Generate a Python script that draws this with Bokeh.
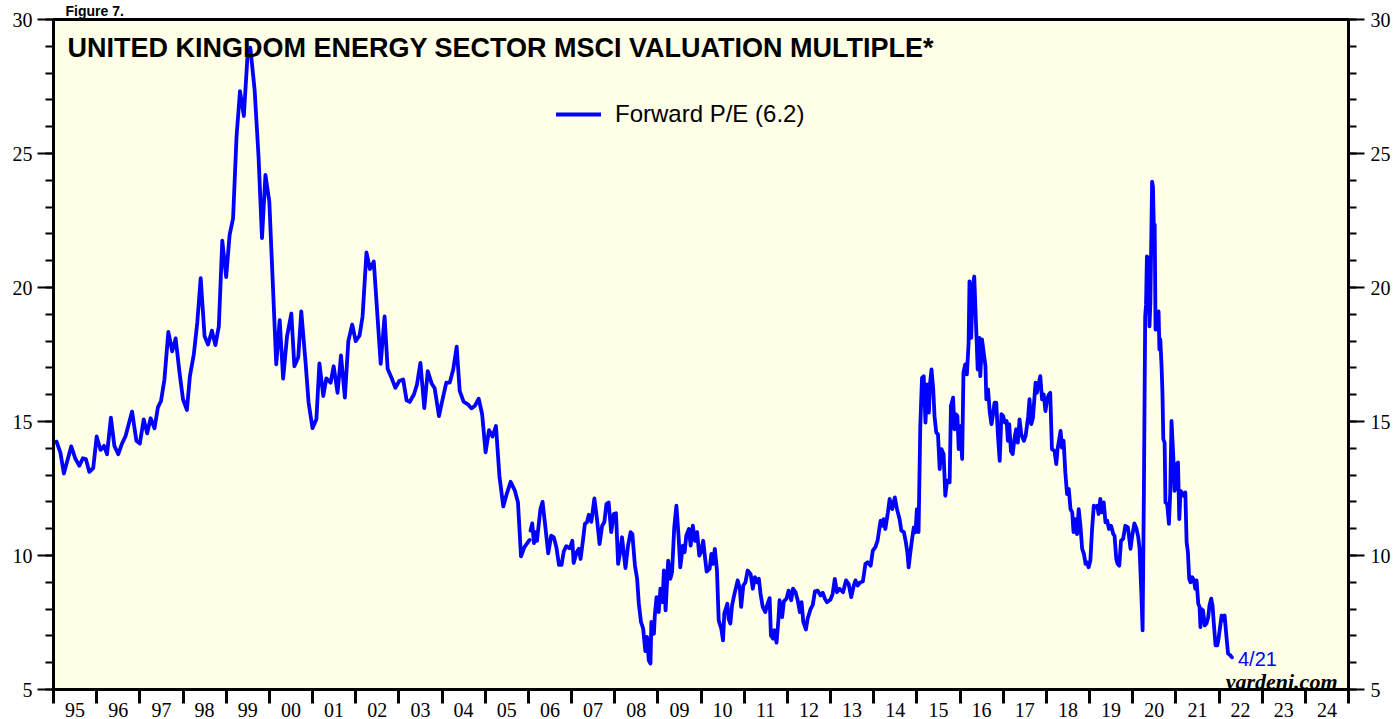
import numpy as np
from bokeh.plotting import figure
from bokeh.models import (Range1d, LinearAxis, SingleIntervalTicker, FixedTicker,
                          CustomJSTickFormatter, Label, Legend, LegendItem, Title)
from bokeh.embed import file_html
from bokeh.resources import INLINE

# ---------------- data ----------------
# monthly series 1995 - end 2005
dates_m = [1995.07, 1995.16, 1995.24, 1995.41, 1995.51, 1995.60, 1995.68, 1995.75, 1995.83, 1995.92,
           1996.00, 1996.09, 1996.17, 1996.24, 1996.33, 1996.41, 1996.50, 1996.58, 1996.67, 1996.82, 1996.92,
           1997.00, 1997.09, 1997.17, 1997.25, 1997.34, 1997.42, 1997.49, 1997.57, 1997.66, 1997.75, 1997.83, 1997.92,
           1998.00, 1998.09, 1998.16, 1998.25, 1998.33, 1998.41, 1998.50, 1998.58, 1998.67, 1998.75, 1998.83, 1998.91,
           1999.00, 1999.08, 1999.16, 1999.24, 1999.32, 1999.41, 1999.49, 1999.56, 1999.66, 1999.75, 1999.83, 1999.91,
           2000.00, 2000.08, 2000.16, 2000.24, 2000.32, 2000.41, 2000.51, 2000.58, 2000.67, 2000.74, 2000.84, 2000.91,
           2001.00, 2001.09, 2001.16, 2001.25, 2001.32, 2001.42, 2001.49, 2001.58, 2001.66, 2001.75, 2001.83, 2001.92,
           2002.00, 2002.09, 2002.16, 2002.25, 2002.33, 2002.42, 2002.50, 2002.58, 2002.67, 2002.74, 2002.83, 2002.92,
           2003.01, 2003.10, 2003.18, 2003.25, 2003.35, 2003.42, 2003.50, 2003.59, 2003.67, 2003.76, 2003.83, 2003.93,
           2004.00, 2004.10, 2004.18, 2004.26, 2004.34, 2004.41, 2004.50, 2004.60, 2004.68, 2004.76, 2004.85, 2004.93,
           2005.01, 2005.09, 2005.17, 2005.25, 2005.33, 2005.42, 2005.50, 2005.59, 2005.69, 2005.76, 2005.83, 2005.91,
           2006.03]
pe_m = [14.25, 13.84, 13.06, 14.07, 13.60, 13.35, 13.63, 13.60, 13.12, 13.26,
        14.44, 13.94, 14.09, 13.78, 15.14, 14.09, 13.78, 14.15, 14.46, 15.37, 14.28,
        14.18, 15.08, 14.56, 15.12, 14.75, 15.54, 15.76, 16.57, 18.34, 17.62, 18.10, 16.82,
        15.83, 15.43, 16.69, 17.50, 18.68, 20.35, 18.18, 17.87, 18.39, 17.85, 18.55, 21.75,
        20.39, 21.96, 22.58, 25.62, 27.33, 26.40, 28.54, 28.95, 27.36, 24.88, 21.84, 24.20,
        23.20, 20.17, 17.13, 18.78, 16.60, 18.18, 19.03, 17.06, 17.40, 19.11, 17.19, 15.70,
        14.75, 15.08, 17.17, 15.95, 16.61, 16.45, 17.06, 16.07, 17.47, 15.89, 18.00, 18.62,
        18.00, 18.21, 18.92, 21.31, 20.69, 20.97, 19.05, 17.15, 18.92, 16.97, 16.63, 16.26,
        16.51, 16.57, 15.79, 15.73, 16.01, 16.38, 17.19, 15.50, 16.88, 16.42, 16.24, 15.20,
        15.73, 16.45, 16.45, 16.94, 17.79, 16.14, 15.74, 15.64, 15.49, 15.58, 15.85, 15.27,
        13.85, 14.68, 14.44, 14.83, 12.97, 11.83, 12.30, 12.75, 12.41, 11.98, 9.97, 10.31,
        10.58]

# weekly series 2006 - 4/21/2022
dates_w = [2006.05, 2006.09, 2006.13, 2006.17, 2006.20, 2006.28, 2006.33, 2006.40, 2006.46, 2006.53,
           2006.59, 2006.65, 2006.71, 2006.77, 2006.82, 2006.88, 2006.96, 2007.02, 2007.05, 2007.12,
           2007.17, 2007.21, 2007.27, 2007.31, 2007.36, 2007.40, 2007.46, 2007.53, 2007.59, 2007.65,
           2007.71, 2007.76, 2007.81, 2007.86, 2007.92, 2007.98, 2008.03, 2008.08, 2008.12, 2008.17,
           2008.25, 2008.31, 2008.37, 2008.41, 2008.47, 2008.52, 2008.56, 2008.61, 2008.66, 2008.71,
           2008.75, 2008.79, 2008.83, 2008.85, 2008.91, 2008.93, 2008.97, 2009.02, 2009.06, 2009.11,
           2009.14, 2009.18, 2009.24, 2009.29, 2009.33, 2009.38, 2009.43, 2009.48, 2009.52, 2009.58,
           2009.62, 2009.66, 2009.72, 2009.76, 2009.81, 2009.86, 2009.91, 2009.96, 2010.00, 2010.05,
           2010.13, 2010.20, 2010.24, 2010.28, 2010.32, 2010.37, 2010.41, 2010.47, 2010.51, 2010.54,
           2010.61, 2010.64, 2010.68, 2010.72, 2010.77, 2010.85, 2010.90, 2010.93, 2010.98, 2011.03,
           2011.08, 2011.15, 2011.20, 2011.25, 2011.30, 2011.34, 2011.38, 2011.43, 2011.49, 2011.53,
           2011.59, 2011.62, 2011.67, 2011.70, 2011.75, 2011.79, 2011.82, 2011.88, 2011.92, 2011.98,
           2012.03, 2012.09, 2012.13, 2012.19, 2012.24, 2012.29, 2012.33, 2012.37, 2012.43, 2012.47,
           2012.54, 2012.59, 2012.64, 2012.70, 2012.77, 2012.82, 2012.87, 2012.92, 2013.00, 2013.05,
           2013.10, 2013.15, 2013.21, 2013.29, 2013.36, 2013.42, 2013.48, 2013.54, 2013.58, 2013.63,
           2013.69, 2013.75, 2013.81, 2013.86, 2013.93, 2013.98, 2014.04, 2014.09, 2014.16, 2014.20,
           2014.23, 2014.27, 2014.33, 2014.37, 2014.43, 2014.49, 2014.54, 2014.60, 2014.64, 2014.70,
           2014.74, 2014.78, 2014.81, 2014.85, 2014.89, 2014.93, 2014.97, 2015.00, 2015.04, 2015.08,
           2015.12, 2015.16, 2015.20, 2015.24, 2015.28, 2015.30, 2015.34, 2015.38, 2015.41, 2015.45,
           2015.49, 2015.53, 2015.57, 2015.62, 2015.66, 2015.70, 2015.76, 2015.79, 2015.84, 2015.87,
           2015.91, 2015.94, 2015.97, 2016.01, 2016.05, 2016.08, 2016.12, 2016.16, 2016.20, 2016.22,
           2016.26, 2016.29, 2016.33, 2016.37, 2016.41, 2016.45, 2016.47, 2016.51, 2016.55, 2016.59,
           2016.61, 2016.65, 2016.69, 2016.73, 2016.77, 2016.80, 2016.84, 2016.88, 2016.92, 2016.96,
           2017.00, 2017.04, 2017.08, 2017.11, 2017.14, 2017.18, 2017.22, 2017.26, 2017.30, 2017.34,
           2017.38, 2017.42, 2017.48, 2017.52, 2017.58, 2017.61, 2017.65, 2017.69, 2017.75, 2017.78,
           2017.82, 2017.86, 2017.90, 2017.94, 2017.98, 2018.02, 2018.06, 2018.09, 2018.13, 2018.19,
           2018.23, 2018.26, 2018.30, 2018.33, 2018.36, 2018.40, 2018.44, 2018.48, 2018.52, 2018.56,
           2018.60, 2018.63, 2018.67, 2018.71, 2018.75, 2018.79, 2018.83, 2018.87, 2018.91, 2018.94,
           2018.98, 2019.02, 2019.06, 2019.10, 2019.14, 2019.18, 2019.21, 2019.25, 2019.29, 2019.33,
           2019.37, 2019.41, 2019.45, 2019.50, 2019.55, 2019.58, 2019.62, 2019.65, 2019.69, 2019.73,
           2019.78, 2019.83, 2019.89, 2019.95, 2019.99, 2020.04, 2020.09, 2020.13, 2020.16, 2020.20,
           2020.23, 2020.26, 2020.29, 2020.31, 2020.33, 2020.36, 2020.39, 2020.41, 2020.45, 2020.47,
           2020.49, 2020.51, 2020.53, 2020.57, 2020.60, 2020.62, 2020.64, 2020.67, 2020.69, 2020.71,
           2020.74, 2020.76, 2020.80, 2020.84, 2020.87, 2020.90, 2020.94, 2020.97, 2021.00, 2021.03,
           2021.05, 2021.08, 2021.11, 2021.14, 2021.18, 2021.22, 2021.25, 2021.28, 2021.31, 2021.34,
           2021.38, 2021.42, 2021.45, 2021.48, 2021.52, 2021.55, 2021.57, 2021.59, 2021.63, 2021.67,
           2021.71, 2021.75, 2021.78, 2021.82, 2021.85, 2021.88, 2021.92, 2021.96, 2021.99, 2022.03,
           2022.06, 2022.10, 2022.13, 2022.17, 2022.21, 2022.26, 2022.30]
pe_w = [10.93, 11.20, 10.46, 10.87, 10.55, 11.73, 12.00, 10.99, 10.08, 10.74,
        10.68, 10.31, 9.65, 9.65, 10.15, 10.35, 10.27, 10.55, 9.72, 10.12,
        10.25, 9.87, 10.62, 11.18, 11.24, 11.52, 11.26, 12.13, 11.36, 10.43,
        11.11, 11.24, 11.92, 11.98, 10.87, 11.55, 11.58, 9.69, 10.06, 10.68,
        9.53, 10.37, 10.87, 10.80, 9.62, 9.13, 8.20, 7.52, 7.27, 6.43,
        6.96, 6.09, 5.97, 7.52, 7.08, 7.76, 8.45, 7.89, 8.76, 8.26,
        9.44, 7.95, 9.81, 9.13, 9.38, 11.05, 11.86, 10.74, 9.56, 10.37,
        10.12, 10.74, 10.99, 10.37, 11.11, 10.55, 10.87, 10.00, 10.12, 10.55,
        9.40, 9.50, 10.06, 9.69, 10.25, 9.44, 7.58, 7.27, 6.83, 7.83,
        8.20, 7.64, 7.46, 8.14, 8.53, 9.07, 8.76, 8.08, 8.88, 9.00,
        9.44, 9.31, 8.76, 9.19, 9.00, 9.13, 8.57, 8.08, 7.89, 8.14,
        8.41, 7.02, 6.90, 7.21, 6.75, 7.52, 8.33, 7.70, 8.29, 8.39,
        8.69, 8.33, 8.76, 8.63, 8.33, 7.89, 8.26, 7.52, 7.24, 7.64,
        8.01, 8.16, 8.66, 8.69, 8.51, 8.61, 8.39, 8.26, 8.36, 8.57,
        9.13, 8.63, 8.76, 8.63, 9.07, 8.94, 8.45, 8.88, 9.07, 8.88,
        9.00, 9.03, 9.69, 9.75, 9.62, 10.18, 10.31, 10.55, 11.30, 11.11,
        11.36, 10.99, 11.61, 12.11, 11.73, 12.17, 11.73, 11.36, 10.93, 10.87,
        10.55, 10.12, 9.56, 10.12, 10.62, 11.05, 10.87, 11.73, 10.87, 14.83,
        16.63, 16.69, 14.96, 16.38, 15.33, 16.32, 16.94, 16.20, 15.20, 14.59,
        14.52, 13.22, 13.97, 13.78, 12.23, 12.79, 12.73, 15.58, 15.89, 14.71,
        15.27, 15.20, 13.97, 14.83, 13.60, 16.82, 17.13, 16.76, 17.94, 20.23,
        18.12, 19.92, 20.41, 18.68, 16.94, 18.12, 16.69, 18.06, 17.56, 17.06,
        15.83, 16.20, 15.33, 14.90, 15.33, 15.70, 15.70, 14.46, 13.53, 15.27,
        15.20, 14.96, 15.02, 14.28, 14.90, 13.90, 13.78, 14.34, 14.71, 14.21,
        15.08, 14.52, 14.28, 14.46, 15.20, 15.83, 14.90, 15.14, 16.45, 16.07,
        16.38, 16.69, 15.83, 16.01, 15.39, 15.83, 16.01, 16.07, 13.97, 13.90,
        13.41, 13.97, 14.34, 14.65, 14.03, 14.28, 13.10, 12.29, 12.48, 11.73,
        11.61, 10.87, 11.36, 10.80, 11.73, 11.11, 10.25, 10.06, 9.69, 9.75,
        9.56, 9.81, 10.99, 11.86, 11.80, 11.86, 11.55, 12.11, 11.61, 11.98,
        11.24, 11.30, 10.99, 11.11, 10.80, 10.74, 9.87, 9.69, 9.62, 10.55,
        10.62, 11.11, 11.05, 10.25, 10.74, 11.20, 10.99, 10.68, 10.25, 8.64,
        7.21, 12.35, 18.92, 19.36, 21.16, 21.10, 18.55, 19.42, 23.95, 23.76,
        22.27, 22.34, 18.43, 18.49, 19.11, 17.69, 18.06, 17.06, 16.07, 14.34,
        14.21, 11.98, 11.92, 11.18, 12.35, 15.02, 13.72, 12.41, 13.41, 12.48,
        13.47, 11.36, 12.41, 12.35, 12.23, 12.35, 10.49, 10.12, 9.13, 9.00,
        9.19, 9.07, 8.76, 9.07, 8.20, 8.08, 7.33, 8.01, 7.95, 7.39,
        7.46, 7.70, 8.14, 8.39, 8.14, 7.46, 6.65, 6.65, 6.90, 7.39,
        7.76, 7.58, 7.76, 7.02, 6.34, 6.28, 6.20]

year_labels = ["95", "96", "97", "98", "99", "00", "01", "02", "03", "04",
               "05", "06", "07", "08", "09", "10", "11", "12", "13", "14",
               "15", "16", "17", "18", "19", "20", "21", "22", "23", "24"]
first_year = 1995
y_ticks_major = [5, 10, 15, 20, 25, 30]

figure_text = "Figure 7."
title_text = "UNITED KINGDOM ENERGY SECTOR MSCI VALUATION MULTIPLE*"
legend_text = "Forward P/E (6.2)"
last_date_text = "4/21"
source_text = "yardeni.com"

# one array with a gap between the monthly and weekly series
dates = np.array(dates_m + [np.nan] + dates_w)
pe = np.array(pe_m + [np.nan] + pe_w)

# ---------------- figure ----------------
BG = "#FFFEE6"
p = figure(width=1395, height=719, output_backend="svg", toolbar_location=None,
           x_range=Range1d(first_year, first_year + len(year_labels)),
           y_range=Range1d(min(y_ticks_major), max(y_ticks_major)),
           min_border_left=53, min_border_right=47, min_border_top=19, min_border_bottom=28,
           background_fill_color=BG, border_fill_color="white",
           x_axis_location=None, y_axis_location=None)
p.xgrid.visible = False
p.ygrid.visible = False
p.outline_line_color = "black"
p.outline_line_width = 3

# small figure caption above the frame
p.title = Title(text=figure_text, text_font="Liberation Sans", text_font_style="bold",
                text_font_size="14px", text_color="black", align="left",
                offset=12, standoff=1)

def y_axis():
    ax = LinearAxis(ticker=SingleIntervalTicker(interval=5, num_minor_ticks=5))
    ax.axis_line_width = 3
    ax.axis_line_color = "black"
    ax.major_tick_in = 0
    ax.major_tick_out = 16
    ax.major_tick_line_width = 2
    ax.minor_tick_in = 0
    ax.minor_tick_out = 8
    ax.minor_tick_line_width = 2
    ax.major_label_text_font = "Liberation Serif"
    ax.major_label_text_font_size = "20px"
    ax.major_label_text_color = "black"
    return ax

ly = y_axis()
ly.major_label_standoff = 5
p.add_layout(ly, "left")
ry = y_axis()
ry.major_label_standoff = 6
p.add_layout(ry, "right")

mid_years = [first_year + i + 0.5 for i in range(len(year_labels))]
boundaries = [first_year + i for i in range(len(year_labels) + 1)]
xax = LinearAxis(ticker=FixedTicker(ticks=mid_years, minor_ticks=boundaries))
xax.formatter = CustomJSTickFormatter(args=dict(labels=year_labels, start=first_year),
                                      code="return labels[Math.floor(tick - start)];")
xax.axis_line_width = 3
xax.major_tick_in = 0
xax.major_tick_out = 0
xax.minor_tick_in = 0
xax.minor_tick_out = 14
xax.minor_tick_line_width = 3
xax.major_label_standoff = -1
xax.major_label_text_font = "Liberation Serif"
xax.major_label_text_font_size = "20px"
xax.major_label_text_color = "black"
p.add_layout(xax, "below")

# ---------------- series ----------------
r = p.line(dates, pe, line_color="#0000FF", line_width=3.8, line_join="round", line_cap="round")

legend = Legend(items=[LegendItem(label=legend_text, renderers=[r])],
                location=(503, 561), orientation="vertical",
                glyph_width=45, glyph_height=20, label_standoff=14,
                label_text_font="Liberation Sans", label_text_font_size="24px",
                label_text_color="black", padding=0, margin=0,
                background_fill_alpha=0, border_line_alpha=0)
p.add_layout(legend)

# ---------------- texts ----------------
p.add_layout(Label(x=first_year, y=max(y_ticks_major), x_offset=14, y_offset=-28.5,
                   text=title_text, text_font="Liberation Sans", text_font_style="bold",
                   text_font_size="27px", text_color="black", text_baseline="alphabetic"))

p.add_layout(Label(x=dates_w[-1], y=pe_w[-1], x_offset=6, y_offset=-2,
                   text=last_date_text, text_font="Liberation Sans", text_font_size="20px",
                   text_color="#0000FF", text_baseline="middle"))

p.add_layout(Label(x=first_year + len(year_labels), y=min(y_ticks_major), x_offset=-11, y_offset=8,
                   text=source_text, text_font="Liberation Serif", text_font_style="bold italic",
                   text_font_size="22px", text_color="black", text_align="right",
                   text_baseline="alphabetic"))

open("out.html", "w").write(file_html(p, INLINE))
